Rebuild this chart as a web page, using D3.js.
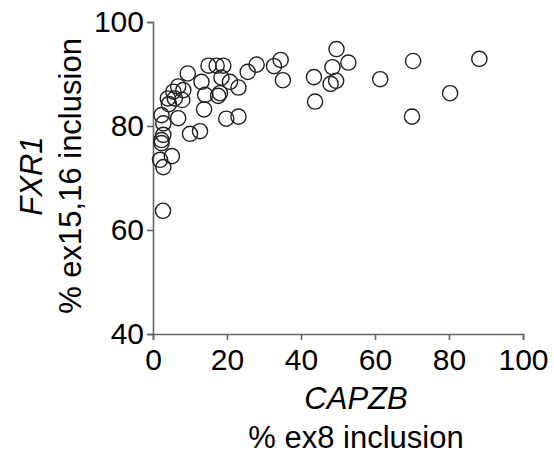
<!DOCTYPE html>
<html>
<head>
<meta charset="utf-8">
<script src="https://cdn.jsdelivr.net/npm/d3@7"></script>
<style>
  body { margin: 0; background: #fff; }
  svg { display: block; font-family: "Liberation Sans", Arial, sans-serif; }
</style>
</head>
<body>
<svg id="chart"></svg>
<script>
const width = 554, height = 454;

// CAPZB % ex8 inclusion (x) vs FXR1 % ex15,16 inclusion (y)
const capzb = [88.2, 80.3, 70.3, 70.0, 61.4, 52.8, 49.6, 48.5, 49.5, 48.0,
  43.5, 43.8, 34.5, 32.7, 35.1, 28.0, 25.6, 23.1, 20.8, 19.0,
  17.2, 15.0, 18.5, 18.1, 17.6, 14.1, 13.1, 13.8, 19.8, 23.1,
  12.7, 10.0, 9.4, 6.8, 5.5, 8.2, 4.0, 5.9, 7.9, 4.3,
  2.3, 6.8, 2.8, 2.8, 2.3, 2.3, 5.1, 1.9, 2.8, 2.7];
const fxr1 = [92.9, 86.3, 92.5, 81.8, 89.0, 92.2, 94.8, 91.3, 88.7, 88.1,
  89.4, 84.7, 92.7, 91.5, 88.8, 91.8, 90.4, 87.4, 88.5, 91.6,
  91.6, 91.6, 89.3, 86.3, 85.8, 86.0, 88.5, 83.2, 81.4, 81.8,
  79.0, 78.5, 90.1, 87.6, 86.6, 86.9, 85.3, 85.3, 85.0, 84.2,
  82.1, 81.5, 80.5, 78.3, 77.3, 76.7, 74.2, 73.5, 72.1, 63.7];

const xTicks = [0, 20, 40, 60, 80, 100];
const yTicks = [40, 60, 80, 100];

const svg = d3.select("#chart")
    .attr("width", width)
    .attr("height", height);

const x = d3.scaleLinear().domain([0, 100]).range([153, 523]);
const y = d3.scaleLinear().domain([40, 100]).range([334, 22]);

const xAxis = svg.append("g")
    .attr("transform", "translate(0,334)")
    .call(d3.axisBottom(x).tickValues(xTicks).tickSizeOuter(0).tickSize(6).tickPadding(9));

const yAxis = svg.append("g")
    .attr("transform", "translate(153,0)")
    .call(d3.axisLeft(y).tickValues(yTicks).tickSizeOuter(0).tickSize(6).tickPadding(3));

[xAxis, yAxis].forEach(a => {
  a.select(".domain").attr("stroke", "#666").attr("stroke-width", 1.6);
  a.selectAll(".tick line").attr("stroke", "#666").attr("stroke-width", 1.6);
  a.selectAll(".tick text")
      .attr("fill", "#000")
      .style("font-size", "30px")
      .style("font-family", "'Liberation Sans', Arial, sans-serif");
});

// points
svg.append("g")
  .selectAll("circle")
  .data(capzb.map((d, i) => [d, fxr1[i]]))
  .join("circle")
    .attr("cx", d => x(d[0]))
    .attr("cy", d => y(d[1]))
    .attr("r", 7.6)
    .attr("fill", "none")
    .attr("stroke", "#222")
    .attr("stroke-width", 1.4);

// axis titles
svg.append("text")
    .attr("x", 356).attr("y", 409)
    .attr("text-anchor", "middle")
    .style("font-size", "31px").style("font-style", "italic")
    .text("CAPZB");
svg.append("text")
    .attr("x", 356).attr("y", 448)
    .attr("text-anchor", "middle")
    .style("font-size", "31px")
    .text("% ex8 inclusion");

svg.append("text")
    .attr("transform", "translate(42,176) rotate(-90)")
    .attr("text-anchor", "middle")
    .style("font-size", "31px").style("font-style", "italic")
    .text("FXR1");
svg.append("text")
    .attr("transform", "translate(81,176) rotate(-90)")
    .attr("text-anchor", "middle")
    .style("font-size", "31px")
    .text("% ex15,16 inclusion");
</script>
</body>
</html>
